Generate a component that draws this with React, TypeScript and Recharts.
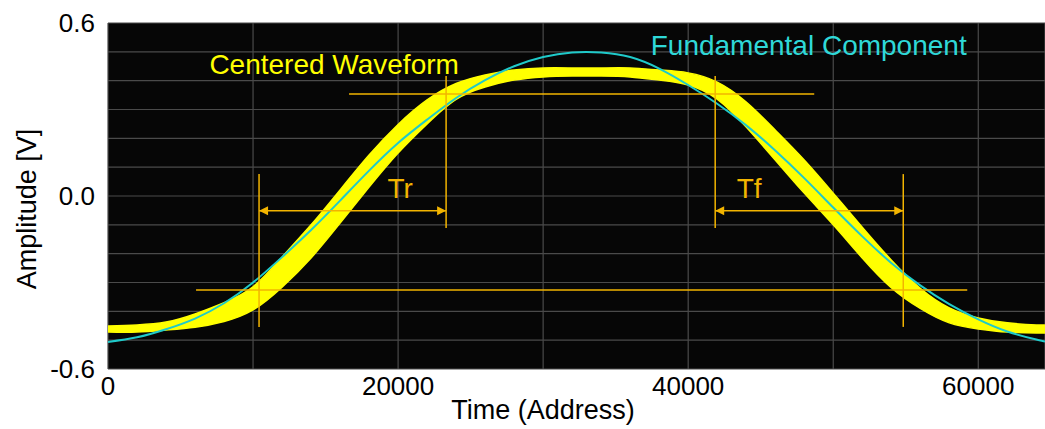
import React from 'react';
import {
  Area,
  CartesianGrid,
  ComposedChart,
  Line,
  ReferenceDot,
  ReferenceLine,
  XAxis,
  YAxis,
} from 'recharts';

// sample addresses (x)
const addr = [
  0, 2000, 4000, 6000, 8000, 10000, 12000, 14000, 16000, 18000, 20000, 22000, 24000, 26000, 28000, 30000,
  32000, 34000, 36000, 38000, 40000, 42000, 44000, 46000, 48000, 50000, 52000, 54000, 56000, 58000, 60000,
  62000, 64000, 64600,
];

// upper and lower edges of the noisy yellow band (V)
const waveHi = [
  -0.451, -0.447, -0.437, -0.409, -0.37, -0.315, -0.212, -0.1, 0.021, 0.142, 0.248, 0.333, 0.39, 0.42,
  0.437, 0.444, 0.444, 0.444, 0.444, 0.437, 0.427, 0.395, 0.326, 0.229, 0.125, 0.01, -0.108, -0.222, -0.32,
  -0.388, -0.423, -0.44, -0.447, -0.447,
];
const waveLo = [
  -0.472, -0.472, -0.465, -0.455, -0.435, -0.395, -0.316, -0.215, -0.094, 0.031, 0.149, 0.25, 0.335, 0.378,
  0.402, 0.413, 0.416, 0.416, 0.413, 0.402, 0.385, 0.336, 0.239, 0.125, 0.01, -0.1, -0.215, -0.318, -0.39,
  -0.44, -0.461, -0.472, -0.475, -0.475,
];

// cyan fundamental component (V)
const fundamental = [
  -0.506, -0.49, -0.462, -0.425, -0.372, -0.3, -0.212, -0.118, -0.016, 0.088, 0.184, 0.265, 0.34, 0.402,
  0.45, 0.482, 0.498, 0.498, 0.482, 0.442, 0.385, 0.32, 0.245, 0.158, 0.062, -0.04, -0.14, -0.232, -0.31,
  -0.375, -0.428, -0.47, -0.498, -0.505,
];

const xTicks = [0, 10000, 20000, 30000, 40000, 50000, 60000];
const xLabels = [0, 20000, 40000, 60000];
const yTicks = [-0.6, -0.5, -0.4, -0.3, -0.2, -0.1, 0, 0.1, 0.2, 0.3, 0.4, 0.5, 0.6];
const yLabels = [-0.6, 0, 0.6];

// measurement markers
const refHigh = { y: 0.354, x1: 16620, x2: 48690 };
const refLow = { y: -0.326, x1: 6070, x2: 59240 };
const trStart = 10414;
const trEnd = 23310;
const tfStart = 41862;
const tfEnd = 54828;
const arrowLevel = -0.051;

const rows = addr.map((a, i) => ({
  addr: a,
  wave: [waveLo[i], waveHi[i]],
  fund: fundamental[i],
}));

const FONT = '"Liberation Sans", Arial, sans-serif';
const ORANGE = '#f2b400';

const ArrowLine = (p: any) => {
  const { x1, y1, x2, y2 } = p;
  const h = 9;
  const w = 4.5;
  return (
    <g>
      <line x1={x1} y1={y1} x2={x2} y2={y2} stroke={ORANGE} strokeWidth={1.5} />
      <polygon points={`${x1},${y1} ${x1 + h},${y1 - w} ${x1 + h},${y1 + w}`} fill={ORANGE} />
      <polygon points={`${x2},${y2} ${x2 - h},${y2 - w} ${x2 - h},${y2 + w}`} fill={ORANGE} />
    </g>
  );
};

const YTitle = ({ viewBox }: any) => {
  const cx = viewBox.x + 27;
  const cy = viewBox.y + viewBox.height / 2 + 13;
  return (
    <text
      x={cx}
      y={cy}
      transform={`rotate(-90 ${cx} ${cy})`}
      textAnchor="middle"
      dominantBaseline="central"
      fontSize={27}
      fontFamily={FONT}
      fill="#000"
    >
      Amplitude [V]
    </text>
  );
};

const XTitle = ({ viewBox }: any) => (
  <text
    x={viewBox.x + 435}
    y={viewBox.y + 50}
    textAnchor="middle"
    fontSize={27}
    fontFamily={FONT}
    fill="#000"
  >
    Time (Address)
  </text>
);

const seg = (x1: number, y1: number, x2: number, y2: number) => [
  { x: x1, y: y1 },
  { x: x2, y: y2 },
];

export default function App() {
  const tickStyle = { fontSize: 26, fontFamily: FONT, fill: '#000' };
  return (
    <div style={{ position: 'absolute', left: 0, top: 0, width: 1045, height: 429, background: '#fff' }}>
      <ComposedChart width={1045} height={429} data={rows} margin={{ top: 23, right: 0, bottom: 0, left: 0 }}>
        <CartesianGrid stroke="#4a4a4a" strokeWidth={1.2} fill="#060606" fillOpacity={1} />
        <XAxis
          dataKey="addr"
          type="number"
          domain={[0, 64600]}
          ticks={xTicks}
          interval={0}
          allowDataOverflow
          height={60}
          axisLine={false}
          tickLine={false}
          tickSize={0}
          tickMargin={8}
          tick={tickStyle}
          tickFormatter={(v: number) => (xLabels.includes(v) ? String(v) : '')}
          label={<XTitle />}
        />
        <YAxis
          type="number"
          domain={[-0.6, 0.6]}
          ticks={yTicks}
          interval={0}
          allowDataOverflow
          width={108}
          axisLine={false}
          tickLine={false}
          tickSize={0}
          tickMargin={13}
          tick={tickStyle}
          tickFormatter={(v: number) => (yLabels.includes(v) ? v.toFixed(1) : '')}
          label={<YTitle />}
        />
        <Area
          dataKey="wave"
          type="natural"
          stroke="#ffff00"
          strokeWidth={1.5}
          fill="#ffff00"
          fillOpacity={1}
          isAnimationActive={false}
          dot={false}
          activeDot={false}
        />
        <Line
          dataKey="fund"
          type="natural"
          stroke="#1fcaca"
          strokeWidth={2}
          dot={false}
          activeDot={false}
          isAnimationActive={false}
        />
        <ReferenceLine segment={seg(refHigh.x1, refHigh.y, refHigh.x2, refHigh.y)} stroke={ORANGE} strokeWidth={1.5} />
        <ReferenceLine segment={seg(refLow.x1, refLow.y, refLow.x2, refLow.y)} stroke={ORANGE} strokeWidth={1.5} />
        <ReferenceLine segment={seg(trStart, 0.076, trStart, -0.454)} stroke={ORANGE} strokeWidth={1.5} />
        <ReferenceLine segment={seg(trEnd, 0.416, trEnd, -0.111)} stroke={ORANGE} strokeWidth={1.5} />
        <ReferenceLine segment={seg(tfStart, 0.416, tfStart, -0.111)} stroke={ORANGE} strokeWidth={1.5} />
        <ReferenceLine segment={seg(tfEnd, 0.076, tfEnd, -0.454)} stroke={ORANGE} strokeWidth={1.5} />
        <ReferenceLine segment={seg(trStart, arrowLevel, trEnd, arrowLevel)} shape={ArrowLine} />
        <ReferenceLine segment={seg(tfStart, arrowLevel, tfEnd, arrowLevel)} shape={ArrowLine} />
        <ReferenceDot
          x={20140}
          y={0.028}
          r={0}
          stroke="none"
          label={{ value: 'Tr', position: 'center', fill: ORANGE, fontSize: 28, fontFamily: FONT }}
        />
        <ReferenceDot
          x={44200}
          y={0.028}
          r={0}
          stroke="none"
          label={{ value: 'Tf', position: 'center', fill: ORANGE, fontSize: 28, fontFamily: FONT }}
        />
        <ReferenceDot
          x={15590}
          y={0.458}
          r={0}
          stroke="none"
          label={{ value: 'Centered Waveform', position: 'center', fill: '#ffff00', fontSize: 28, fontFamily: FONT }}
        />
        <ReferenceDot
          x={48310}
          y={0.524}
          r={0}
          stroke="none"
          label={{ value: 'Fundamental Component', position: 'center', fill: '#2fd8d8', fontSize: 28, fontFamily: FONT }}
        />
      </ComposedChart>
    </div>
  );
}
